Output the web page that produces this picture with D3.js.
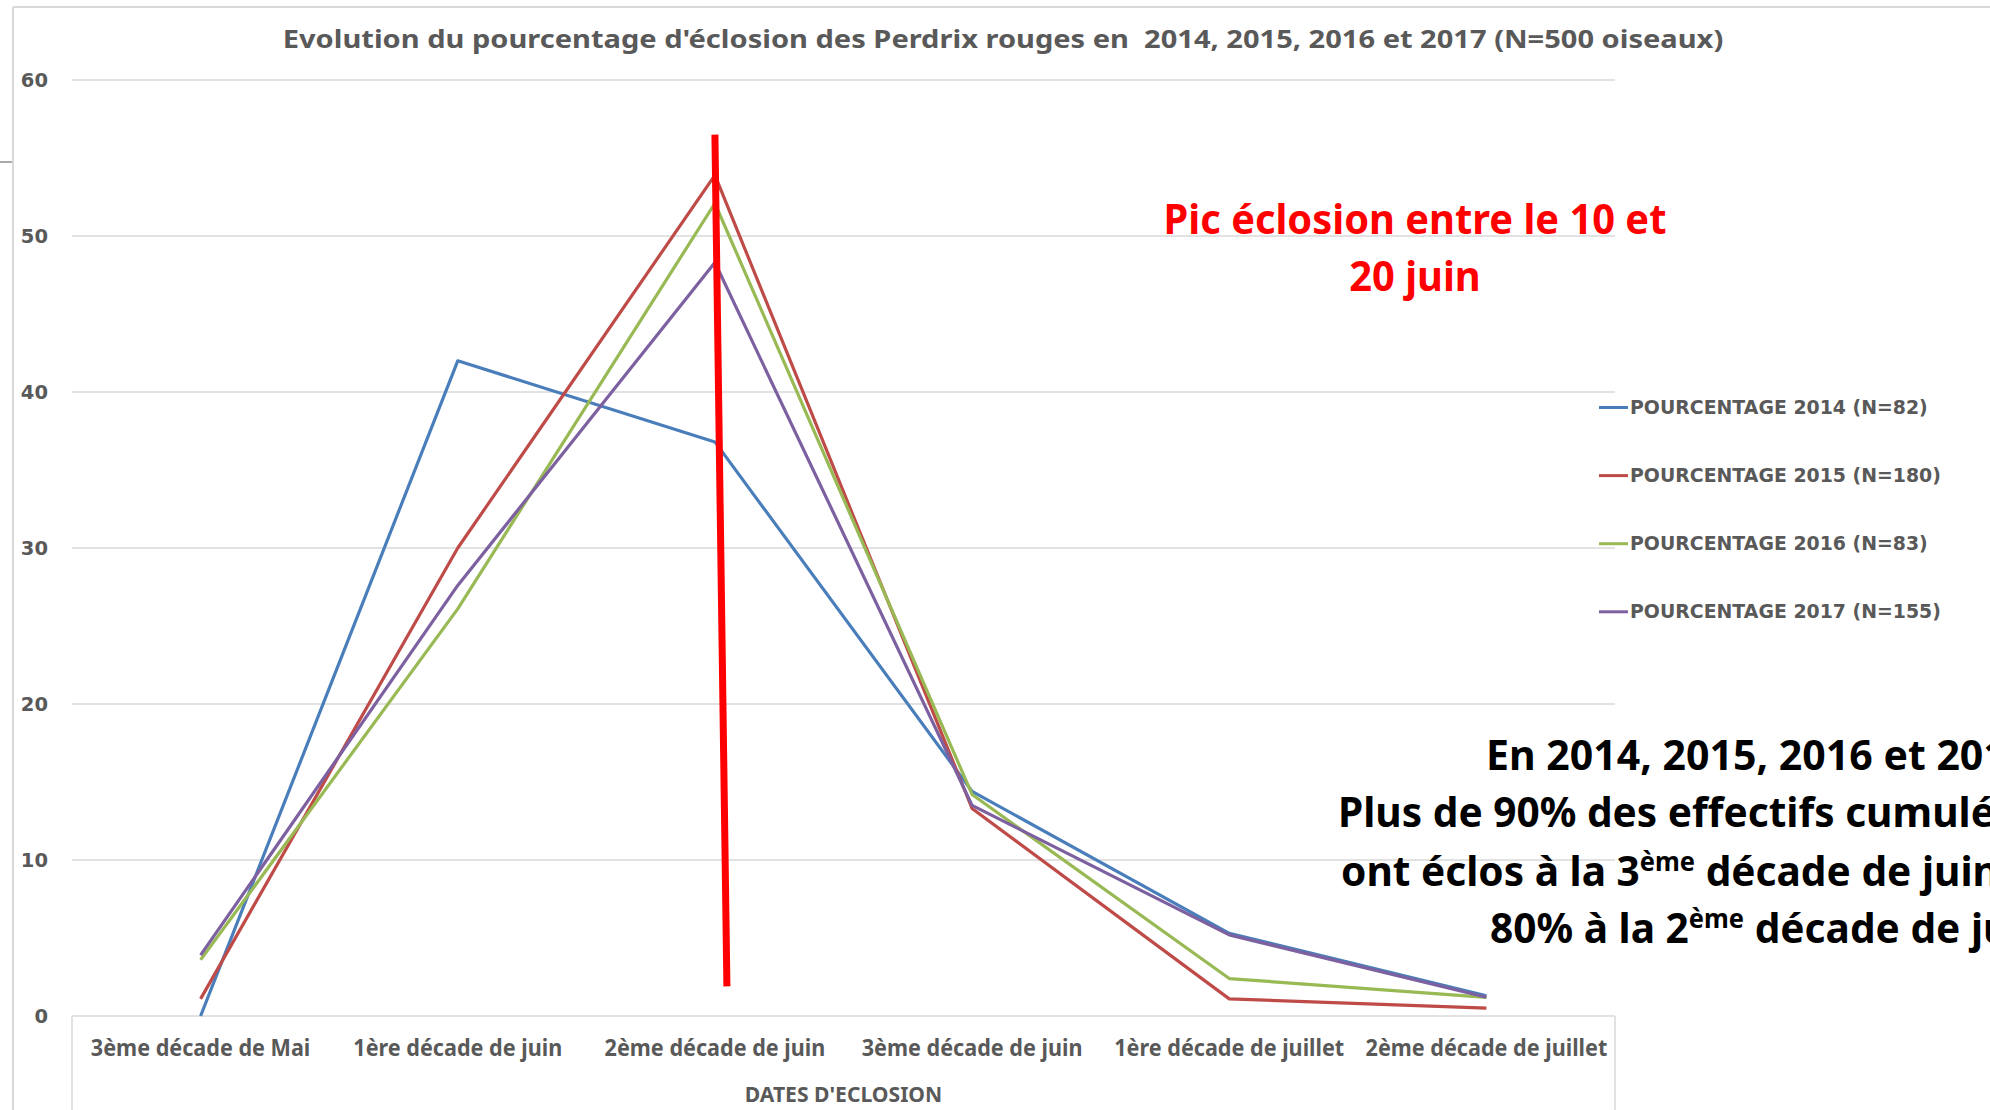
<!DOCTYPE html>
<html>
<head>
<meta charset="utf-8">
<script src="https://cdn.jsdelivr.net/npm/d3@7/dist/d3.min.js"></script>
<style>
body { margin:0; background:#fff; overflow:hidden; }
svg { display:block; }
text { white-space: pre; }
</style>
</head>
<body>
<svg id="vis" width="1990" height="1110"></svg>
<script>
// data
var categories = ["3ème décade de Mai", "1ère décade de juin", "2ème décade de juin",
                  "3ème décade de juin", "1ère décade de juillet", "2ème décade de juillet"];
var seriesNames = ["POURCENTAGE 2014 (N=82)", "POURCENTAGE 2015 (N=180)",
                   "POURCENTAGE 2016 (N=83)", "POURCENTAGE 2017 (N=155)"];
var pct2014 = [0, 42.0, 36.8, 14.4, 5.3, 1.3];
var pct2015 = [1.1, 30.0, 53.9, 13.3, 1.1, 0.5];
var pct2016 = [3.6, 26.1, 52.1, 14.2, 2.4, 1.2];
var pct2017 = [3.9, 27.6, 48.3, 13.5, 5.2, 1.2];
var colors = ["#4A7EBB", "#BE4B48", "#98B954", "#7D60A0"];
var yTicks = [0, 10, 20, 30, 40, 50, 60];

var title = "Evolution du pourcentage d'éclosion des Perdrix rouges en  2014, 2015, 2016 et 2017 (N=500 oiseaux)";
var xTitle = "DATES D'ECLOSION";
var peakNote = ["Pic éclosion entre le 10 et", "20 juin"];

var grey = "#595959";
var narrowFont = "'Noto Sans', 'Open Sans', sans-serif";
var wideFont = "'DejaVu Sans', Verdana, sans-serif";

var svg = d3.select("svg#vis");
var plotLeft = 72, plotRight = 1615, plotTop = 80, plotBottom = 1016;

var x = d3.scalePoint().domain(categories).range([plotLeft, plotRight]).padding(0.5);
var y = d3.scaleLinear().domain([0, 60]).range([plotBottom, plotTop]);

// outer frame bits
svg.append("line").attr("x1", 13).attr("x2", 1990).attr("y1", 7).attr("y2", 7)
	.attr("stroke", "#d9d9d9").attr("stroke-width", 2);
svg.append("line").attr("x1", 13).attr("x2", 13).attr("y1", 7).attr("y2", 1110)
	.attr("stroke", "#d9d9d9").attr("stroke-width", 2);
svg.append("line").attr("x1", 0).attr("x2", 12).attr("y1", 162).attr("y2", 162)
	.attr("stroke", "#8c8c8c").attr("stroke-width", 1.5);

// gridlines
svg.append("g").selectAll("line").data(yTicks.slice(1)).enter().append("line")
	.attr("x1", plotLeft).attr("x2", plotRight)
	.attr("y1", function(d){ return y(d); }).attr("y2", function(d){ return y(d); })
	.attr("stroke", "#d9d9d9").attr("stroke-width", 1.5);

// y axis labels
var yAxis = svg.append("g").attr("transform", "translate(48,0)")
	.call(d3.axisLeft(y).tickValues(yTicks).tickSize(0).tickPadding(0));
yAxis.select(".domain").remove();
yAxis.selectAll("text")
	.attr("font-family", wideFont).attr("font-weight", "bold")
	.attr("font-size", 19.5).attr("fill", grey);

// x axis line and label box
svg.append("line").attr("x1", plotLeft).attr("x2", plotRight)
	.attr("y1", plotBottom).attr("y2", plotBottom)
	.attr("stroke", "#d9d9d9").attr("stroke-width", 1.5);
[plotLeft, plotRight].forEach(function(px){
	svg.append("line").attr("x1", px).attr("x2", px).attr("y1", plotBottom).attr("y2", 1110)
		.attr("stroke", "#d9d9d9").attr("stroke-width", 1.5);
});

// title squeezed to its width in the picture
var titleText = svg.append("text").text(title)
	.attr("font-family", narrowFont).attr("font-weight", "bold")
	.attr("font-size", 25).attr("fill", grey);
var titleSqueeze = 1441 / titleText.node().getComputedTextLength();
titleText.attr("text-anchor", "middle")
	.attr("transform", "translate(1003,48) scale(" + titleSqueeze + ",1)");

// the red note sets the squeeze for the other Calibri-like texts
var probe = svg.append("text").text(peakNote[0])
	.attr("font-family", narrowFont).attr("font-weight", "bold").attr("font-size", 41.5);
var squeeze = 503 / probe.node().getComputedTextLength();
probe.remove();

function narrowText(px, py, anchor, size, color, k)
{
	var s = squeeze * (k || 1);
	return svg.append("text")
		.attr("transform", "translate(" + px + "," + py + ") scale(" + s + ",1)")
		.attr("text-anchor", anchor)
		.attr("font-family", narrowFont).attr("font-weight", "bold")
		.attr("font-size", size).attr("fill", color);
}

// category labels
categories.forEach(function(c){
	narrowText(x(c), 1056, "middle", 22.5, grey).text(c);
});
narrowText((plotLeft + plotRight) / 2, 1102, "middle", 22, grey).text(xTitle);

// series lines
var allSeries = [pct2014, pct2015, pct2016, pct2017];
var line = d3.line()
	.x(function(d, i){ return x(categories[i]); })
	.y(function(d){ return y(d); });
svg.append("g").selectAll("path").data(allSeries).enter().append("path")
	.attr("d", line)
	.attr("fill", "none")
	.attr("stroke", function(d, i){ return colors[i]; })
	.attr("stroke-width", 3.2)
	.attr("stroke-linejoin", "round");

// legend
var legend = svg.append("g").selectAll("g").data(seriesNames).enter().append("g")
	.attr("transform", function(d, i){ return "translate(1599," + (407.5 + i * 68.1) + ")"; });
legend.append("line").attr("x1", 0).attr("x2", 29).attr("y1", 0).attr("y2", 0)
	.attr("stroke", function(d, i){ return colors[i]; }).attr("stroke-width", 3);
legend.append("text").attr("x", 31).attr("dy", "0.35em")
	.attr("font-family", wideFont).attr("font-weight", "bold")
	.attr("font-size", 18.9).attr("fill", grey)
	.text(function(d){ return d; });

// red marker at the peak decade
var peak = categories[2];
svg.append("line")
	.attr("x1", x(peak)).attr("y1", y(56.5))
	.attr("x2", x(peak) + 12).attr("y2", y(1.9))
	.attr("stroke", "#FF0000").attr("stroke-width", 7);

// annotations
narrowText(1415, 234, "middle", 41.5, "#FF0000").text(peakNote[0]);
narrowText(1415, 291, "middle", 41.5, "#FF0000").text(peakNote[1]);

narrowText(1486, 770, "start", 41.5, "#000", 1.03).text("En 2014, 2015, 2016 et 2017");
narrowText(1338, 827, "start", 41.5, "#000", 1.02).text("Plus de 90% des effectifs cumulés");
var l3 = narrowText(1341, 886, "start", 41.5, "#000", 1.02);
l3.append("tspan").text("ont éclos à la 3");
l3.append("tspan").attr("font-size", 26).attr("dy", -15).text("ème");
l3.append("tspan").attr("dy", 15).text(" décade de juin");
var l4 = narrowText(1490, 943, "start", 41.5, "#000", 1.02);
l4.append("tspan").text("80% à la 2");
l4.append("tspan").attr("font-size", 26).attr("dy", -15).text("ème");
l4.append("tspan").attr("dy", 15).text(" décade de juin");
</script>
</body>
</html>
